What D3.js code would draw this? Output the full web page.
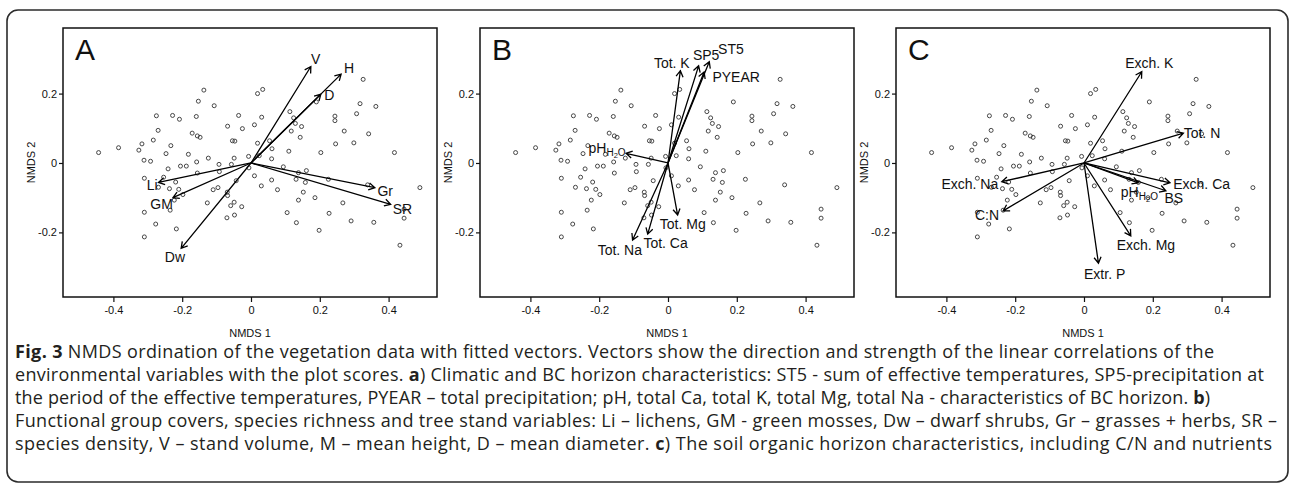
<!DOCTYPE html>
<html>
<head>
<meta charset="utf-8">
<script src="https://cdn.jsdelivr.net/npm/d3@7"></script>
<style>
  body { margin: 0; background: #fff; }
  svg text { font-family: "Liberation Sans", Arial, sans-serif; fill: #111; }
  .caption text { font-family: "Open Sans", sans-serif; fill: #231f20; }
</style>
</head>
<body>
<svg id="fig" width="1292" height="484"></svg>
<script>
// plot scores (NMDS axis 1 and 2), same sites in every panel
const nmds1 = [
  -0.443, -0.385, -0.326, -0.317, -0.284, -0.270, -0.275, -0.228, -0.208, -0.233,
  -0.247, -0.311, -0.292, -0.182, -0.158, -0.124, -0.171, -0.156, -0.148, -0.159,
  -0.153, -0.137, -0.107, -0.068, -0.054, -0.047, -0.036, -0.025, 0.010, 0.019,
  0.034, 0.031, 0.019, -0.049, -0.007, 0.024, 0.060, 0.054, 0.061, 0.110,
  0.203, 0.417, 0.143, 0.117, 0.147, 0.129, 0.124, 0.113, 0.190, 0.244,
  0.244, 0.271, 0.326, 0.317, 0.307, 0.363, 0.342, 0.246, 0.299, -0.093,
  -0.057, -0.310, -0.254, -0.269, -0.241, -0.219, -0.237, -0.205, -0.188, -0.210,
  -0.223, -0.235, -0.310, -0.277, -0.217, -0.310, -0.156, -0.127, -0.110, -0.096,
  -0.092, -0.043, -0.069, -0.068, -0.049, -0.059, -0.027, -0.070, -0.048, -0.006,
  0.010, 0.030, 0.060, 0.077, 0.094, 0.105, 0.131, 0.138, 0.138, 0.132,
  0.152, 0.158, 0.161, 0.186, 0.225, 0.227, 0.198, 0.267, 0.291, 0.339,
  0.357, 0.445, 0.433, 0.491, 0.445, -0.198
]
const nmds2 = [
  0.030, 0.044, 0.037, 0.055, 0.066, 0.094, 0.136, 0.137, 0.126, 0.050,
  0.027, 0.008, 0.005, 0.025, 0.003, 0.014, 0.086, 0.078, 0.074, 0.134,
  0.178, 0.210, 0.165, 0.106, 0.064, 0.063, 0.137, 0.099, 0.110, 0.200,
  0.212, 0.132, 0.057, 0.014, 0.019, 0.021, 0.012, 0.064, 0.041, 0.034,
  0.030, 0.030, 0.074, 0.092, 0.105, 0.114, 0.130, 0.148, 0.176, 0.135,
  0.122, 0.092, 0.241, 0.171, 0.142, 0.163, 0.084, 0.055, 0.058, -0.004,
  -0.004, -0.044, -0.041, -0.070, -0.017, -0.055, -0.074, -0.009, -0.009, -0.076,
  -0.107, -0.136, -0.142, -0.176, -0.190, -0.213, -0.029, -0.115, -0.077, -0.071,
  -0.025, -0.051, -0.084, -0.094, -0.113, -0.123, -0.126, -0.158, -0.150, -0.014,
  -0.037, -0.066, -0.049, -0.077, -0.011, -0.143, -0.047, -0.028, -0.107, -0.172,
  -0.084, -0.056, -0.022, -0.100, -0.047, -0.145, -0.194, -0.115, -0.167, -0.063,
  -0.171, -0.159, -0.237, -0.071, -0.133, -0.091
]

// fitted vectors: arrow tip (x, y) and label anchor (lx, ly), NMDS units
const vectorsA = [
  { name: "V",  x: 0.174,  y: 0.278,  lx: 0.188,  ly: 0.299 },
  { name: "H",  x: 0.262,  y: 0.256,  lx: 0.285,  ly: 0.275 },
  { name: "D",  x: 0.203,  y: 0.198,  lx: 0.228,  ly: 0.197 },
  { name: "Li", x: -0.269, y: -0.056, lx: -0.287, ly: -0.063 },
  { name: "GM", x: -0.227, y: -0.100, lx: -0.260, ly: -0.119 },
  { name: "Dw", x: -0.203, y: -0.246, lx: -0.221, ly: -0.272 },
  { name: "Gr", x: 0.360,  y: -0.071, lx: 0.390,  ly: -0.082 },
  { name: "SR", x: 0.406,  y: -0.119, lx: 0.440,  ly: -0.133 }
]
const vectorsB = [
  { name: "Tot. K",  x: 0.036,  y: 0.266,  lx: 0.011,  ly: 0.288 },
  { name: "SP5",     x: 0.089,  y: 0.280,  lx: 0.111,  ly: 0.311 },
  { name: "ST5",     x: 0.120,  y: 0.292,  lx: 0.183,  ly: 0.329 },
  { name: "PYEAR",   x: 0.105,  y: 0.262,  lx: 0.198,  ly: 0.248 },
  { name: "pH",      x: -0.122, y: 0.028,  lx: -0.177, ly: 0.043 },
  { name: "Tot. Mg", x: 0.028,  y: -0.150, lx: 0.043,  ly: -0.175 },
  { name: "Tot. Ca", x: -0.059, y: -0.205, lx: -0.007, ly: -0.231 },
  { name: "Tot. Na", x: -0.103, y: -0.222, lx: -0.140, ly: -0.251 }
]
const vectorsC = [
  { name: "Exch. K",  x: 0.168,  y: 0.263,  lx: 0.190,  ly: 0.288 },
  { name: "Tot. N",   x: 0.289,  y: 0.086,  lx: 0.343,  ly: 0.086 },
  { name: "Exch. Na", x: -0.239, y: -0.054, lx: -0.332, ly: -0.061 },
  { name: "C:N",      x: -0.235, y: -0.138, lx: -0.282, ly: -0.151 },
  { name: "Extr. P",  x: 0.042,  y: -0.289, lx: 0.060,  ly: -0.320 },
  { name: "Exch. Mg", x: 0.136,  y: -0.210, lx: 0.180,  ly: -0.236 },
  { name: "pH",       x: 0.158,  y: -0.057, lx: 0.161,  ly: -0.084 },
  { name: "Exch. Ca", x: 0.250,  y: -0.057, lx: 0.342,  ly: -0.061 },
  { name: "BS",       x: 0.238,  y: -0.080, lx: 0.261,  ly: -0.102 }
]

const xTicks = [-0.4, -0.2, 0, 0.2, 0.4]
const yTicks = [-0.2, 0, 0.2]
const panelLetters = ["A", "B", "C"]

const captionLines = [
  "*Fig. 3* NMDS ordination of the vegetation data with fitted vectors. Vectors show the direction and strength of the linear correlations of the",
  "environmental variables with the plot scores. *a*) Climatic and BC horizon characteristics: ST5 - sum of effective temperatures, SP5-precipitation at",
  "the period of the effective temperatures, PYEAR \u2013 total precipitation; pH, total Ca, total K, total Mg, total Na - characteristics of BC horizon. *b*)",
  "Functional group covers, species richness and tree stand variables: Li \u2013 lichens, GM - green mosses, Dw \u2013 dwarf shrubs, Gr \u2013 grasses + herbs, SR \u2013",
  "species density, V \u2013 stand volume, M \u2013 mean height, D \u2013 mean diameter. *c*) The soil organic horizon characteristics, including C/N and nutrients"
]
// right end of each caption line (px), the caption is set flush
const captionEnds = [1214, 1264, 1210, 1277, 1272]

const svg = d3.select("#fig")
const points = nmds1.map((x, i) => ({ x: x, y: nmds2[i] }))

// outer frame
svg.append("rect")
  .attr("x", 7).attr("y", 10).attr("width", 1281).attr("height", 472)
  .attr("rx", 11).attr("ry", 11)
  .attr("fill", "none").attr("stroke", "#2b2b2b").attr("stroke-width", 1.6)

const panelLeft = [63, 480, 896]
const plotW = 374, plotTop = 28, plotH = 269
const fmt = d => d === 0 ? "0" : d3.format(".1f")(d).replace("\u2212", "-")

function make_scales(left) {
  return {
    x: d3.scaleLinear().domain([-0.5465, 0.5407]).range([left, left + plotW]),
    y: d3.scaleLinear().domain([-0.3862, 0.389]).range([plotTop + plotH, plotTop])
  }
}

function draw_label(g, v, s) {
  const t = g.append("text")
    .attr("x", s.x(v.lx)).attr("y", s.y(v.ly))
    .attr("dy", "0.36em")
    .attr("text-anchor", "middle")
    .attr("font-size", 14)
  if (v.name === "pH") {
    t.append("tspan").text("pH")
    t.append("tspan").attr("dy", 3).attr("font-size", 10).text("H")
    t.append("tspan").attr("dy", 2).attr("font-size", 7.5).text("2")
    t.append("tspan").attr("dy", -2).attr("font-size", 10).text("O")
  } else {
    t.text(v.name)
  }
}

function draw_panel(idx, vectors) {
  const left = panelLeft[idx]
  const s = make_scales(left)
  const g = svg.append("g")

  // axes
  g.append("g")
    .attr("transform", `translate(0, ${plotTop + plotH})`)
    .call(d3.axisBottom(s.x).tickValues(xTicks).tickSize(5).tickPadding(4).tickFormat(fmt))
    .call(a => a.select(".domain").remove())
    .call(a => a.selectAll("text").attr("font-size", 11).attr("font-family", null))
    .call(a => a.selectAll("line").attr("stroke", "#111").attr("stroke-width", 1.2))
  g.append("g")
    .attr("transform", `translate(${left}, 0)`)
    .call(d3.axisLeft(s.y).tickValues(yTicks).tickSize(4).tickPadding(2).tickFormat(fmt))
    .call(a => a.select(".domain").remove())
    .call(a => a.selectAll("text").attr("font-size", 11).attr("font-family", null))
    .call(a => a.selectAll("line").attr("stroke", "#111").attr("stroke-width", 1.2))

  g.append("text")
    .attr("x", left + plotW / 2).attr("y", 337)
    .attr("text-anchor", "middle").attr("font-size", 11)
    .text("NMDS 1")
  g.append("text")
    .attr("transform", `translate(${left - 28}, ${plotTop + plotH / 2}) rotate(-90)`)
    .attr("text-anchor", "middle").attr("font-size", 11)
    .text("NMDS 2")

  // plot box
  g.append("rect")
    .attr("x", left).attr("y", plotTop).attr("width", plotW).attr("height", plotH)
    .attr("fill", "none").attr("stroke", "#111").attr("stroke-width", 1.5)

  g.append("text")
    .attr("x", left + 12).attr("y", plotTop + 32)
    .attr("font-size", 30)
    .text(panelLetters[idx])

  // site scores
  g.append("g").selectAll("circle")
    .data(points).enter()
    .append("circle")
    .attr("cx", d => s.x(d.x))
    .attr("cy", d => s.y(d.y))
    .attr("r", 2)
    .attr("fill", "none")
    .attr("stroke", "#333")
    .attr("stroke-width", 0.9)

  // fitted vectors
  const x0 = s.x(0), y0 = s.y(0)
  const arrows = g.append("g")
  vectors.forEach(v => {
    const x1 = s.x(v.x), y1 = s.y(v.y)
    const ang = Math.atan2(y1 - y0, x1 - x0)
    const len = 7, spread = Math.PI / 6
    const hx1 = x1 - len * Math.cos(ang - spread), hy1 = y1 - len * Math.sin(ang - spread)
    const hx2 = x1 - len * Math.cos(ang + spread), hy2 = y1 - len * Math.sin(ang + spread)
    arrows.append("path")
      .attr("d", `M${x0},${y0}L${x1},${y1}M${hx1},${hy1}L${x1},${y1}L${hx2},${hy2}`)
      .attr("fill", "none").attr("stroke", "#000").attr("stroke-width", 1.3)
    draw_label(g, v, s)
  })
}

draw_panel(0, vectorsA)
draw_panel(1, vectorsB)
draw_panel(2, vectorsC)

// caption
const cap = svg.append("g").attr("class", "caption")
captionLines.forEach((line, i) => {
  const t = cap.append("text")
    .attr("x", 15).attr("y", 358 + i * 22.9)
    .attr("font-size", 18)
  line.split("*").forEach((part, j) => {
    if (!part) return
    t.append("tspan").attr("font-weight", j % 2 ? "bold" : null).text(part)
  })
  t.attr("textLength", captionEnds[i] - 15).attr("lengthAdjust", "spacing")
})
</script>
</body>
</html>
